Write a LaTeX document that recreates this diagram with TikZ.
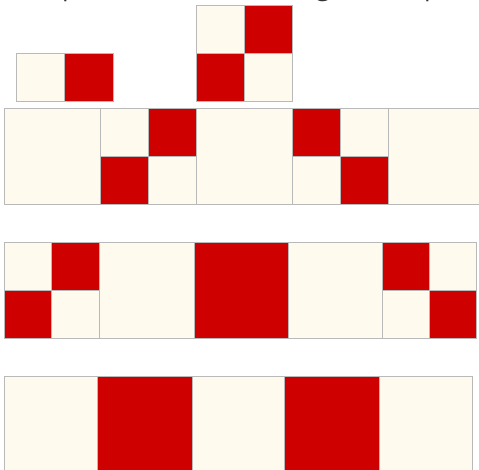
\documentclass[tikz,border=0pt]{standalone}
\usepackage{fontspec}
\setmainfont{Open Sans}
\definecolor{cream}{HTML}{FFFAEE}
\definecolor{flag}{HTML}{CF0000}

\begin{document}
\begin{tikzpicture}[x=1pt, y=-1pt,
  cell/.style={draw=gray!55, line width=0.6pt},
  word/.style={anchor=base west, inner sep=0pt, font=\fontsize{26}{30}\selectfont, text=black!80}]
\useasboundingbox (0,0) rectangle (479,469);
\clip (0,0) rectangle (479,469);
% line of text above, cut off at the top edge
\node[word] (w1) at (62,-5) {p};
\node[word] (w2) at (316,-5) {g};
\node[word] (w3) at (424,-5) {p};
% loose pieces
\foreach \x/\y/\X/\Y/\c in {16/53/64/101/cream, 64/53/113/101/flag,
    196/5/244/53/cream, 244/5/292/53/flag, 196/53/244/101/flag, 244/53/292/101/cream}
  \draw[cell, fill=\c] (\x,\y) rectangle (\X,\Y);
% first row
\foreach \x/\y/\X/\Y/\c in {4/108/100/204/cream,
    100/108/148/156/cream, 148/108/196/156/flag, 100/156/148/204/flag, 148/156/196/204/cream,
    196/108/292/204/cream,
    292/108/340/156/flag, 340/108/388/156/cream, 292/156/340/204/cream, 340/156/388/204/flag,
    388/108/484/204/cream}
  \draw[cell, fill=\c] (\x,\y) rectangle (\X,\Y);
% second row
\foreach \x/\y/\X/\Y/\c in {4/242/51/290/cream, 51/242/99/290/flag, 4/290/51/338/flag, 51/290/99/338/cream,
    99/242/194/338/cream, 194/242/288/338/flag, 288/242/382/338/cream,
    382/242/429/290/flag, 429/242/476/290/cream, 382/290/429/338/cream, 429/290/476/338/flag}
  \draw[cell, fill=\c] (\x,\y) rectangle (\X,\Y);
% third row
\foreach \x/\X/\c in {4/97/cream, 97/192/flag, 192/284/cream, 284/379/flag, 379/472/cream}
  \draw[cell, fill=\c] (\x,376) rectangle (\X,474);
\end{tikzpicture}
\end{document}
